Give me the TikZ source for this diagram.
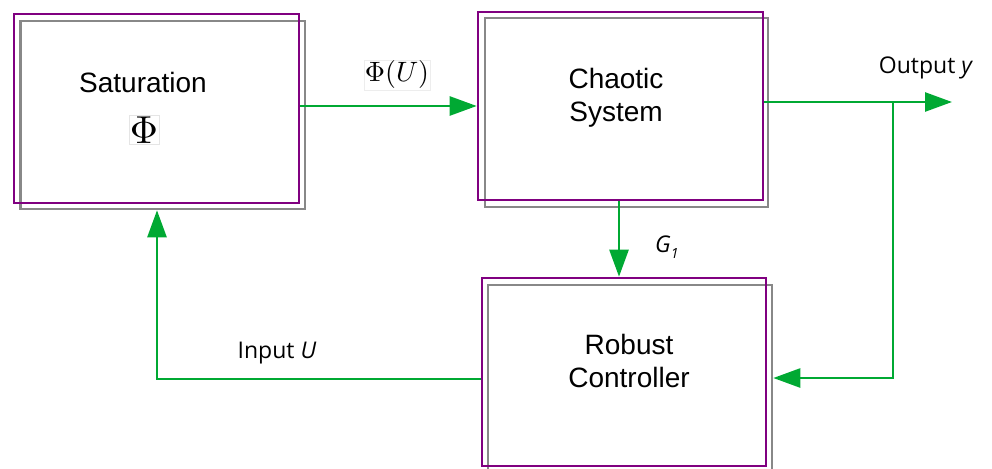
\documentclass[tikz,border=0pt]{standalone}
\usepackage{fontspec}
\setmainfont{Liberation Sans}
\newfontfamily\lblfont{Open Sans}
\usetikzlibrary{arrows.meta}
\definecolor{cgreen}{HTML}{00A933}
\definecolor{cpurple}{HTML}{800080}
\definecolor{cgray}{HTML}{888888}
\begin{document}
\begin{tikzpicture}[x=1pt,y=-1pt,
  box/.style={draw=cpurple, line width=2.6pt, inner sep=0pt},
  shbox/.style={draw=cgray, line width=2.6pt, inner sep=0pt},
  boxtext/.style={font=\fontsize{28}{33}\selectfont, align=center, inner sep=0pt},
  conn/.style={draw=cgreen, line width=2.6pt, -{Triangle[length=27pt,width=19pt]}},
  lbl/.style={font=\lblfont\fontsize{23}{27}\selectfont, inner sep=0pt}]
\useasboundingbox (0,0) rectangle (992,468);
% shadow (gray) boxes
\node[shbox, minimum width=284.5pt, minimum height=188pt] (satsh) at (162.75,115) {};
\node[shbox, minimum width=283pt, minimum height=189pt] (chaossh) at (626.5,112.5) {};
\node[shbox, minimum width=284pt, minimum height=188pt] (robsh) at (630,379) {};
% main (purple) boxes
\node[box, minimum width=285pt, minimum height=189pt] (sat) at (156.5,108.5) {};
\node[box, minimum width=285pt, minimum height=188pt] (chaos) at (620.5,106) {};
\node[box, minimum width=284pt, minimum height=188pt] (rob) at (624,372) {};
% box texts
\node[boxtext] (sattxt) at (143,82) {Saturation};
\node[draw=black!10, line width=0.5pt, inner sep=1pt] (phi) at (144,130) {\scalebox{3.9}{$\Phi$}};
\node[boxtext] (chaostxt) at (616,98) {Chaotic\\System};
\node[boxtext] (robtxt) at (629,360.5) {Robust\\Controller};
% connectors
\coordinate (mid) at (390,106);
\coordinate (outend) at (952,102);
\coordinate (split) at (893,102);
\coordinate (br) at (893,378);
\coordinate (bl) at (157,379);
\draw[conn] (mid -| sat.east) -- (mid -| chaos.west);
\draw[conn] ([xshift=-1.5pt]chaos.south) -- ([xshift=-1.5pt]chaos.south |- rob.north);
\draw[conn] (outend -| chaos.east) -- (outend);
\draw[conn] (split) -- (br) -- (br -| robsh.east);
\draw[conn] (bl -| rob.west) -- (bl) -- (bl |- satsh.south);
% labels
\node[draw=black!7, line width=0.5pt, inner sep=1pt] (phiu) at (397,75) {\scalebox{2.8}{$\Phi(U)$}};
\node[lbl] (outlbl) at (926,68) {Output \textit{y}};
\node[lbl] (inlbl) at (277,353) {Input \textit{U}};
\node[lbl, anchor=base west] (glbl) at (655,252) {\textit{G}\raisebox{-6pt}{\fontsize{14}{14}\selectfont\textit{1}}};
\end{tikzpicture}
\end{document}
